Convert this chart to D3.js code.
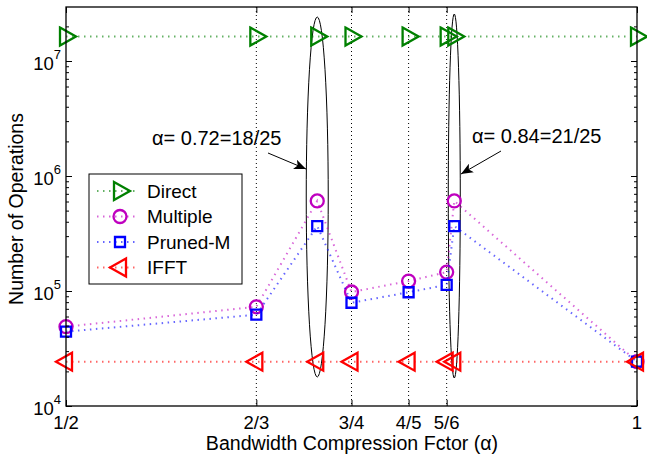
<!DOCTYPE html>
<html>
<head>
<meta charset="utf-8">
<script src="https://cdn.jsdelivr.net/npm/d3@7"></script>
<style>
  body { margin: 0; background: #fff; }
  svg text { font-family: "Liberation Sans", Arial, Helvetica, sans-serif; fill: #000; }
</style>
</head>
<body>
<svg id="chart" width="647" height="455"></svg>
<script>
// data
var xVals = [1/2, 2/3, 0.72, 3/4, 4/5, 5/6, 0.84, 1];
var xTickVals = [1/2, 2/3, 3/4, 4/5, 5/6, 1];
var xTickLabels = ["1/2", "2/3", "3/4", "4/5", "5/6", "1"];
var direct   = [16300000, 16300000, 16300000, 16300000, 16300000, 16300000, 16300000, 16300000];
var multiple = [49000, 72900, 607000, 98000, 122000, 146000, 607000, 24300];
var prunedM  = [44300, 62200, 367000, 79000, 97500, 113000, 367000, 24300];
var ifft     = [24300, 24300, 24300, 24300, 24300, 24300, 24300, 24300];
var yDecades = [1e4, 1e5, 1e6, 1e7];

var series = [
  {name: "Direct",   values: direct,   color: "#008000", marker: "right"},
  {name: "Multiple", values: multiple, color: "#bf00bf", marker: "circle"},
  {name: "Pruned-M", values: prunedM,  color: "#0000ff", marker: "square"},
  {name: "IFFT",     values: ifft,     color: "#ff0000", marker: "left"}
];

var svg = d3.select("#chart");
var pLeft = 66, pRight = 637, pTop = 7, pBottom = 406;

var x = d3.scaleLinear().domain([0.5, 1]).range([pLeft, pRight]);
// 115 px per decade, top edge just under 3e7
var y = d3.scaleLog().domain([1e4, 1e7]).range([pBottom, pBottom - 345]);

// vertical dotted grid
svg.append("g").selectAll("line")
  .data(xTickVals.slice(1, -1))
  .enter().append("line")
  .attr("x1", function(d){ return x(d); })
  .attr("x2", function(d){ return x(d); })
  .attr("y1", pTop).attr("y2", pBottom)
  .attr("stroke", "#000").attr("stroke-width", 1)
  .attr("stroke-dasharray", "1,3");

// ellipses around the 0.72 and 0.84 points
svg.append("ellipse")
  .attr("cx", x(0.72)).attr("cy", 197).attr("rx", 11).attr("ry", 180)
  .attr("fill", "none").attr("stroke", "#000").attr("stroke-width", 1);
svg.append("ellipse")
  .attr("cx", x(0.84)).attr("cy", 196).attr("rx", 6).attr("ry", 182)
  .attr("fill", "none").attr("stroke", "#000").attr("stroke-width", 1);

function markerPath(type) {
  if (type === "right") return "M-6,-9L10,0L-6,9Z";
  if (type === "left") return "M6,-9L-10,0L6,9Z";
  if (type === "square") return "M-5,-5L5,-5L5,5L-5,5Z";
  return "M6.5,0A6.5,6.5 0 1,1 -6.5,0A6.5,6.5 0 1,1 6.5,0Z";
}

var line = d3.line()
  .x(function(d){ return x(d[0]); })
  .y(function(d){ return y(d[1]); });

series.forEach(function(s){
  var pts = xVals.map(function(v, i){ return [v, s.values[i]]; });
  svg.append("path")
    .attr("d", line(pts))
    .attr("fill", "none")
    .attr("stroke", s.color)
    .attr("stroke-width", 2)
    .attr("stroke-dasharray", "1.5,4.5")
    .attr("opacity", 0.6);
  svg.append("g").selectAll("path")
    .data(pts)
    .enter().append("path")
    .attr("transform", function(d){ return "translate(" + x(d[0]) + "," + y(d[1]) + ")"; })
    .attr("d", markerPath(s.marker))
    .attr("fill", "none")
    .attr("stroke", s.color)
    .attr("stroke-width", 2.3);
});

// annotations
var defs = svg.append("defs");
defs.append("marker")
  .attr("id", "arrow")
  .attr("viewBox", "0 -5 12 10")
  .attr("refX", 12).attr("refY", 0)
  .attr("markerWidth", 12).attr("markerHeight", 10)
  .attr("markerUnits", "userSpaceOnUse")
  .attr("orient", "auto")
  .append("path")
  .attr("d", "M0,-5L12,0L0,5L3,0Z")
  .attr("fill", "#000");

svg.append("text").attr("x", 152).attr("y", 145).attr("font-size", 20).text("α= 0.72=18/25");
svg.append("line")
  .attr("x1", 268).attr("y1", 153).attr("x2", 306).attr("y2", 169)
  .attr("stroke", "#000").attr("stroke-width", 1).attr("marker-end", "url(#arrow)");
svg.append("text").attr("x", 472).attr("y", 143).attr("font-size", 20).text("α= 0.84=21/25");
svg.append("line")
  .attr("x1", 501).attr("y1", 151).attr("x2", 461).attr("y2", 174)
  .attr("stroke", "#000").attr("stroke-width", 1).attr("marker-end", "url(#arrow)");

// axes box
svg.append("rect")
  .attr("x", pLeft).attr("y", pTop)
  .attr("width", pRight - pLeft).attr("height", pBottom - pTop)
  .attr("fill", "none").attr("stroke", "#000").attr("stroke-width", 1.3);

// y ticks (major + minor), inside on both sides
var minor = [];
for (var e = 4; e <= 7; e++) {
  for (var m = 2; m <= 9; m++) {
    var v = m * Math.pow(10, e);
    if (y(v) >= pTop) minor.push(v);
  }
}
var gl = svg.append("g").attr("transform", "translate(" + pLeft + ",0)")
  .call(d3.axisRight(y).tickValues(minor).tickSize(3).tickFormat(""));
var gr = svg.append("g").attr("transform", "translate(" + pRight + ",0)")
  .call(d3.axisLeft(y).tickValues(minor).tickSize(3).tickFormat(""));
var gl2 = svg.append("g").attr("transform", "translate(" + pLeft + ",0)")
  .call(d3.axisRight(y).tickValues(yDecades).tickSize(6).tickFormat(""));
var gr2 = svg.append("g").attr("transform", "translate(" + pRight + ",0)")
  .call(d3.axisLeft(y).tickValues(yDecades).tickSize(6).tickFormat(""));
[gl, gr, gl2, gr2].forEach(function(g){
  g.select(".domain").remove();
  g.selectAll("line").attr("stroke", "#000").attr("stroke-width", 1);
});

// y decade labels
var yl = svg.append("g");
yDecades.forEach(function(d){
  var t = yl.append("text")
    .attr("x", 61).attr("y", y(d) + 9)
    .attr("text-anchor", "end")
    .attr("font-size", 18.5);
  t.append("tspan").text("10");
  t.append("tspan").attr("dy", -11).attr("font-size", 13).text(Math.round(Math.log10(d)));
});

// x ticks bottom/top
var xb = svg.append("g").attr("transform", "translate(0," + pBottom + ")")
  .call(d3.axisTop(x).tickValues(xTickVals).tickSize(6).tickFormat(""));
var xt = svg.append("g").attr("transform", "translate(0," + pTop + ")")
  .call(d3.axisBottom(x).tickValues(xTickVals).tickSize(6).tickFormat(""));
[xb, xt].forEach(function(g){
  g.select(".domain").remove();
  g.selectAll("line").attr("stroke", "#000").attr("stroke-width", 1);
});
svg.append("g").selectAll("text")
  .data(xTickVals)
  .enter().append("text")
  .attr("x", function(d){ return x(d); })
  .attr("y", 429)
  .attr("text-anchor", "middle")
  .attr("font-size", 18.5)
  .text(function(d, i){ return xTickLabels[i]; });

// axis titles
svg.append("text")
  .attr("x", 352).attr("y", 450)
  .attr("text-anchor", "middle").attr("font-size", 19.6)
  .text("Bandwidth Compression Fctor (α)");
svg.append("text")
  .attr("transform", "translate(23,209) rotate(-90)")
  .attr("text-anchor", "middle").attr("font-size", 19.5)
  .text("Number of Operations");

// legend
var lg = svg.append("g");
lg.append("rect")
  .attr("x", 89).attr("y", 174).attr("width", 153).attr("height", 110)
  .attr("fill", "#fff").attr("stroke", "#000").attr("stroke-width", 1);
series.forEach(function(s, i){
  var cy = 191 + i * 25.5;
  lg.append("line")
    .attr("x1", 97).attr("x2", 139).attr("y1", cy).attr("y2", cy)
    .attr("stroke", s.color).attr("stroke-width", 2)
    .attr("stroke-dasharray", "1.5,4.5").attr("opacity", 0.6);
  lg.append("path")
    .attr("transform", "translate(120," + cy + ")")
    .attr("d", markerPath(s.marker))
    .attr("fill", "none").attr("stroke", s.color).attr("stroke-width", 2.3);
  lg.append("text")
    .attr("x", 147).attr("y", cy + 6.5)
    .attr("font-size", 19)
    .text(s.name);
});
</script>
</body>
</html>
